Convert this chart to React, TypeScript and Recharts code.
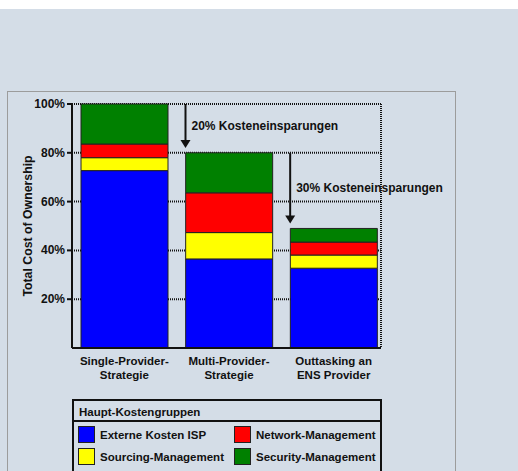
import React from 'react';
import { BarChart, Bar, XAxis, YAxis, CartesianGrid, ReferenceLine, Label } from 'recharts';

// Kategorien (zweizeilig) und Kostenanteile in %
const categoryLine1 = ['Single-Provider-', 'Multi-Provider-', 'Outtasking an'];
const categoryLine2 = ['Strategie', 'Strategie', 'ENS Provider'];
const externeKostenIsp = [72.7, 36.5, 32.7];
const sourcingMgmt = [5.3, 10.8, 5.4];
const networkMgmt = [5.6, 16.3, 5.3];
const securityMgmt = [16.4, 16.4, 5.6];
const yTicks = [20, 40, 60, 80, 100];

// Einsparungs-Pfeile: Kategorie, von, bis
const savingsText = ['20% Kosteneinsparungen', '30% Kosteneinsparungen'];
const savingsCategory = [1, 2];
const savingsFrom = [100, 80];
const savingsTo = [82, 51];

const seriesKeys = ['externe', 'sourcing', 'network', 'security'];
const seriesNames = ['Externe Kosten ISP', 'Sourcing-Management', 'Network-Management', 'Security-Management'];
const seriesColors = ['#0000ff', '#ffff00', '#ff0000', '#008000'];

const FONT = 'Arial, "Liberation Sans", sans-serif';
const BAR_SIZE = 87;

const data = categoryLine1.map((c, i) => ({
  cat: c,
  externe: externeKostenIsp[i],
  sourcing: sourcingMgmt[i],
  network: networkMgmt[i],
  security: securityMgmt[i],
}));

const CategoryTick = (props: any) => {
  const { x, y, payload } = props;
  const i = categoryLine1.indexOf(payload.value);
  return (
    <text x={x} y={y} textAnchor="middle" fontFamily={FONT} fontWeight="bold" fontSize={11.5} fill="#111">
      <tspan x={x} dy={9}>{payload.value}</tspan>
      <tspan x={x} dy={14}>{categoryLine2[i]}</tspan>
    </text>
  );
};

const PercentTick = (props: any) => {
  const { x, y, payload } = props;
  return (
    <text x={x} y={y} dy={4} textAnchor="end" fontFamily={FONT} fontWeight="bold" fontSize={12} fill="#111">
      {payload.value}%
    </text>
  );
};

const YLabel = (props: any) => {
  const { x, y, height } = props.viewBox;
  const cx = x + 16;
  const cy = y + height / 2;
  return (
    <text x={cx} y={cy} dy={4} textAnchor="middle" transform={`rotate(-90, ${cx}, ${cy})`}
      fontFamily={FONT} fontWeight="bold" fontSize={12.3} fill="#111">
      Total Cost of Ownership
    </text>
  );
};

const makeArrow = (text: string) => (props: any) => {
  const { x1, y1, y2 } = props;
  const x = x1 - BAR_SIZE / 2;
  return (
    <g>
      <line x1={x} y1={y1} x2={x} y2={y2 - 6} stroke="#111" strokeWidth={2} />
      <polygon points={`${x - 5},${y2 - 8} ${x + 5},${y2 - 8} ${x},${y2}`} fill="#111" />
      <text x={x + 6} y={(y1 + y2) / 2} dy={4} fontFamily={FONT} fontWeight="bold" fontSize={12} fill="#111">
        {text}
      </text>
    </g>
  );
};

export default function App() {
  return (
    <div style={{ position: 'absolute', left: 0, top: 0, width: 518, height: 471, background: '#fff', overflow: 'hidden' }}>
      <div style={{ position: 'absolute', left: 0, top: 9, width: 518, height: 462, background: '#d4dde7' }} />
      <div style={{ position: 'absolute', left: 7, top: 91, width: 447, height: 420, border: '1px solid #9c9c9c' }} />
      <div style={{ position: 'absolute', left: 0, top: 0 }}>
        <BarChart width={518} height={471} data={data} barSize={BAR_SIZE}
          margin={{ top: 104, right: 137, bottom: 93, left: 12 }}>
          <CartesianGrid vertical horizontal stroke="#111" strokeWidth={2} strokeDasharray="1 1"
            verticalCoordinatesGenerator={({ offset }: any) => [offset.left + offset.width]} />
          <XAxis dataKey="cat" tick={<CategoryTick />} tickLine={false} interval={0}
            axisLine={{ stroke: '#111', strokeWidth: 2 }} height={30} padding={{ left: 0, right: -5 }} />
          <YAxis domain={[0, 100]} ticks={yTicks} width={60} tick={<PercentTick />} tickSize={5}
            tickLine={{ stroke: '#111', strokeWidth: 2 }} axisLine={{ stroke: '#111', strokeWidth: 2 }}>
            <Label content={<YLabel />} />
          </YAxis>
          {seriesKeys.map((k, i) => (
            <Bar key={k} dataKey={k} name={seriesNames[i]} stackId="tco" fill={seriesColors[i]}
              stroke="#222" strokeWidth={1} isAnimationActive={false} />
          ))}
          {savingsText.map((t, i) => (
            <ReferenceLine key={t}
              segment={[
                { x: categoryLine1[savingsCategory[i]], y: savingsFrom[i] },
                { x: categoryLine1[savingsCategory[i]], y: savingsTo[i] },
              ]}
              shape={makeArrow(t)} />
          ))}
        </BarChart>
      </div>
      <div style={{ position: 'absolute', left: 72, top: 399, width: 310, height: 80, boxSizing: 'border-box',
        border: '2px solid #111', fontFamily: FONT, fontWeight: 'bold', fontSize: 11.5, color: '#111' }}>
        <div style={{ height: 19, borderBottom: '2px solid #111', lineHeight: '23px', paddingLeft: 5 }}>
          Haupt-Kostengruppen
        </div>
        {[0, 1, 2, 3].map((i) => {
          const col = i < 2 ? 0 : 1;
          const row = i % 2;
          return (
            <div key={i} style={{ position: 'absolute', left: 4 + col * 156, top: 25 + row * 22, display: 'flex', alignItems: 'center' }}>
              <div style={{ width: 17, height: 17, boxSizing: 'border-box', background: seriesColors[i], border: '1.5px solid #222' }} />
              <span style={{ marginLeft: 5 }}>{seriesNames[i]}</span>
            </div>
          );
        })}
      </div>
    </div>
  );
}
